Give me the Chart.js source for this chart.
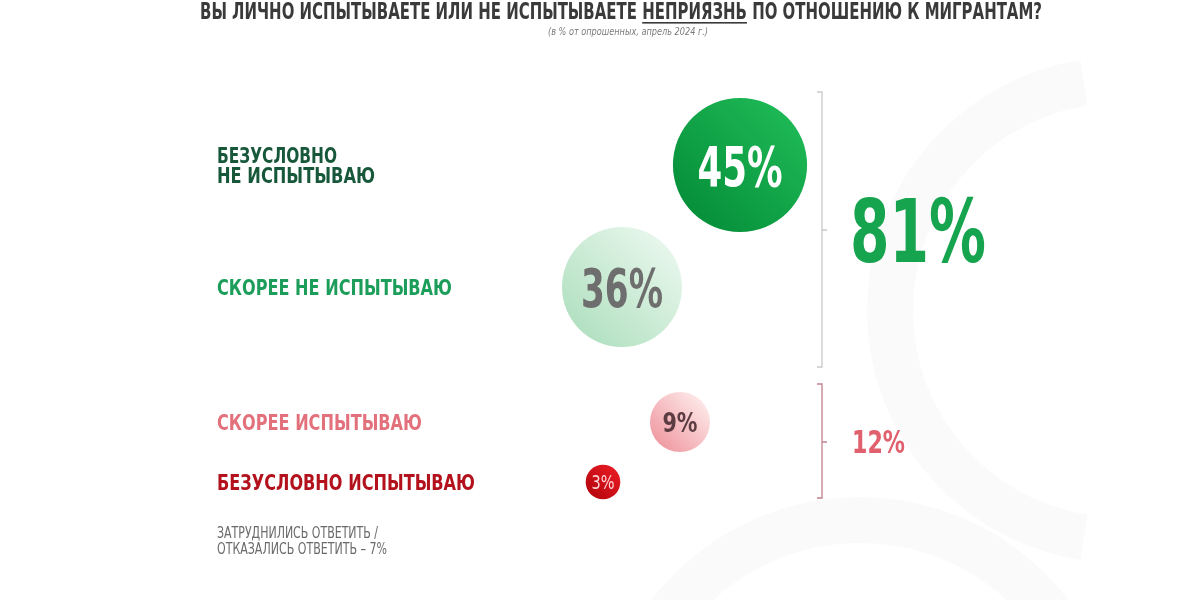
<!DOCTYPE html>
<html>
<head>
<meta charset="utf-8">
<script src="https://cdn.jsdelivr.net/npm/chart.js@4.4.1/dist/chart.umd.min.js"></script>
<style>
  html, body { margin: 0; padding: 0; background: #fff; }
  #wrap { width: 1200px; height: 600px; }
</style>
</head>
<body>
<div id="wrap"><canvas id="migranty" width="1200" height="600"></canvas></div>
<script>
// data
const answers = ['БЕЗУСЛОВНО\nНЕ ИСПЫТЫВАЮ', 'СКОРЕЕ НЕ ИСПЫТЫВАЮ', 'СКОРЕЕ ИСПЫТЫВАЮ', 'БЕЗУСЛОВНО ИСПЫТЫВАЮ']
const shares = [45, 36, 9, 3]
const groupNames = ['не испытывают', 'испытывают']
const groupTotals = [81, 12]
const noAnswer = ['ЗАТРУДНИЛИСЬ ОТВЕТИТЬ /', 'ОТКАЗАЛИСЬ ОТВЕТИТЬ – 7%']

const titleParts = ['ВЫ ЛИЧНО ИСПЫТЫВАЕТЕ ИЛИ НЕ ИСПЫТЫВАЕТЕ ', 'НЕПРИЯЗНЬ', ' ПО ОТНОШЕНИЮ К МИГРАНТАМ?']
const subtitle = '(в % от опрошенных, апрель 2024 г.)'

// layout (where the bubbles sit on the page)
const bubbleX = [740, 622, 680, 603]
const bubbleY = [165, 287, 422, 482]

const FONT = '"Liberation Sans Narrow", "DejaVu Sans Condensed", "Liberation Sans", sans-serif'

const labelStyle = [
  { color: '#17583a', widths: [120, 158] },
  { color: '#1c9e5a', widths: [235] },
  { color: '#e2717c', widths: [205] },
  { color: '#b3121c', widths: [258] }
]
const bubbleText = [
  { cap: 41, width: 85, color: '#ffffff' },
  { cap: 39, width: 82, color: '#6e6e6e' },
  { cap: 19, width: 35, color: '#5b3c42' },
  { cap: 14, width: 23, color: '#ffd6d6' }
]
const bubbleGrad = [
  ['#06903a', '#1db755'],
  ['#b3e1c2', '#e6f6ea'],
  ['#f09ca4', '#fde6e6'],
  ['#b8060f', '#e51a22']
]

// text squeezed/stretched to the width measured on the picture
const fitText = (ctx, text, x, y, w, align) => {
  const m = ctx.measureText(text).width
  ctx.save()
  ctx.translate(x, y)
  ctx.scale(w / m, 1)
  ctx.textAlign = 'left'
  let ox = 0
  if (align === 'center') ox = -m / 2
  if (align === 'right') ox = -m
  ctx.fillText(text, ox, 0)
  ctx.restore()
}
const font = (cap, weight, style) => `${style || ''} ${weight || 'bold'} ${Math.round(cap / 0.73)}px ${FONT}`

const bubbleGradient = (c) => {
  const chart = c.chart
  const i = c.dataIndex
  if (!chart.chartArea || i === undefined) return bubbleGrad[i || 0][0]
  const x = chart.scales.x.getPixelForValue(bubbleX[i])
  const y = chart.scales.y.getPixelForValue(bubbleY[i])
  const r = 10 * Math.sqrt(shares[i])
  const g = chart.ctx.createLinearGradient(x - r * 0.7, y + r * 0.7, x + r * 0.7, y - r * 0.7)
  g.addColorStop(0, bubbleGrad[i][0])
  g.addColorStop(1, bubbleGrad[i][1])
  return g
}

const decor = {
  id: 'decor',
  afterDatasetsDraw(chart) {
    const ctx = chart.ctx
    const meta = chart.getDatasetMeta(0)
    ctx.save()
    ctx.textBaseline = 'alphabetic'

    // title
    ctx.fillStyle = '#3a3a3a'
    ctx.font = font(17)
    const widths = titleParts.map(t => ctx.measureText(t).width)
    const total = widths.reduce((a, b) => a + b, 0)
    const s = 842 / total
    ctx.save()
    ctx.translate(200, 19)
    ctx.scale(s, 1)
    let cx = 0
    titleParts.forEach((t, k) => {
      ctx.fillText(t, cx, 0)
      if (k === 1) ctx.fillRect(cx, 3, widths[k], 1.6)
      cx += widths[k]
    })
    ctx.restore()

    ctx.fillStyle = '#7a7a7a'
    ctx.font = font(7, 'normal', 'italic')
    fitText(ctx, subtitle, 628, 35, 160, 'center')

    // answer labels and bubble values
    meta.data.forEach((el, i) => {
      const st = labelStyle[i]
      ctx.fillStyle = st.color
      ctx.font = font(15.5)
      const lines = answers[i].split('\n')
      const lh = 20
      const base = el.y + 7.5 - (lines.length - 1) * lh / 2
      lines.forEach((ln, k) => fitText(ctx, ln, 217, base + k * lh, st.widths[k], 'left'))

      const bt = bubbleText[i]
      ctx.fillStyle = bt.color
      ctx.font = font(bt.cap, i === 3 ? 'normal' : 'bold')
      fitText(ctx, shares[i] + '%', el.x, el.y + bt.cap / 2, bt.width, 'center')
    })

    // brackets
    const bracket = (x, y1, y2, ym, color) => {
      ctx.strokeStyle = color
      ctx.lineWidth = 1.3
      ctx.beginPath()
      ctx.moveTo(x - 5, y1); ctx.lineTo(x, y1); ctx.lineTo(x, y2); ctx.lineTo(x - 5, y2)
      ctx.moveTo(x, ym); ctx.lineTo(x + 5, ym)
      ctx.stroke()
    }
    bracket(822, 92, 367, 230, '#c9c9c9')
    bracket(822, 384, 498, 442, '#c0808e')

    // group totals
    ctx.fillStyle = '#17a44f'
    ctx.font = font(64)
    fitText(ctx, groupTotals[0] + '%', 850, 262, 136, 'left')
    ctx.fillStyle = '#e0606e'
    ctx.font = font(23)
    fitText(ctx, groupTotals[1] + '%', 852, 453, 53, 'left')

    // no answer note
    ctx.fillStyle = '#6a6a6a'
    ctx.font = font(11, 'normal')
    fitText(ctx, noAnswer[0], 217, 538, 161, 'left')
    fitText(ctx, noAnswer[1], 217, 554, 170, 'left')

    ctx.restore()
  }
}

const watermark = {
  id: 'watermark',
  beforeDatasetsDraw(chart) {
    const ctx = chart.ctx
    ctx.save()
    ctx.strokeStyle = 'rgba(0,0,0,0.02)'
    ctx.lineWidth = 46
    ctx.beginPath()
    ctx.arc(1120, 310, 230, Math.PI * 0.55, Math.PI * 1.45)
    ctx.stroke()
    ctx.beginPath()
    ctx.arc(860, 760, 240, Math.PI * 1.1, Math.PI * 1.8)
    ctx.stroke()
    ctx.restore()
  }
}

window.addEventListener('load', () => {
  const chart = new Chart(document.getElementById('migranty'), {
    type: 'bubble',
    data: {
      datasets: [{
        label: 'Неприязнь к мигрантам',
        data: shares.map((v, i) => ({ x: bubbleX[i], y: bubbleY[i], r: 10 * Math.sqrt(v) })),
        backgroundColor: bubbleGradient,
        borderWidth: 0,
        hoverRadius: 0
      }]
    },
    options: {
      responsive: false,
      animation: false,
      layout: { padding: 0 },
      scales: {
        x: { type: 'linear', min: 0, max: 1200, display: false },
        y: { type: 'linear', min: 0, max: 600, reverse: true, display: false }
      },
      plugins: {
        legend: { display: false },
        tooltip: { enabled: false }
      }
    },
    plugins: [watermark, decor]
  })
  // bubble charts pad the plot area by the largest radius; make the scales match the page
  const ca = chart.chartArea
  chart.options.scales.x.min = ca.left
  chart.options.scales.x.max = ca.right
  chart.options.scales.y.min = ca.top
  chart.options.scales.y.max = ca.bottom
  chart.update()
})
</script>
</body>
</html>
